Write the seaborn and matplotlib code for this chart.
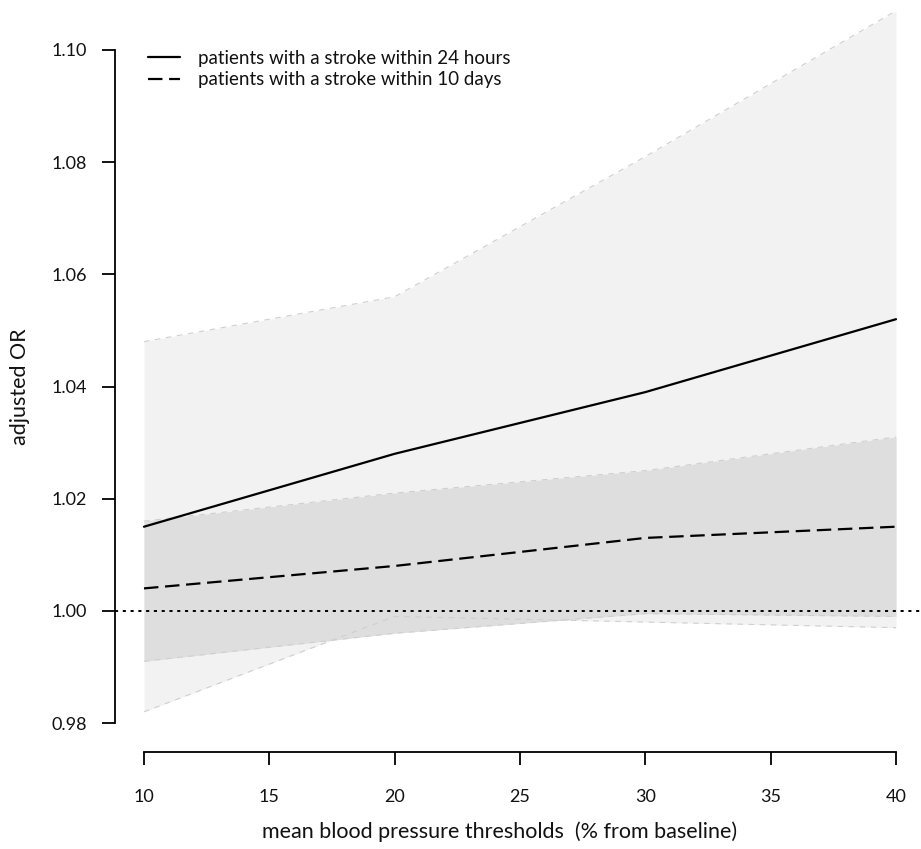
import matplotlib
matplotlib.use("Agg")
import matplotlib.pyplot as plt
import seaborn as sns
import pandas as pd
import numpy as np

# ---- data ----
thresholds = [10, 20, 30, 40]
or_24h = [1.015, 1.028, 1.039, 1.052]
lo_24h = [0.982, 0.999, 0.998, 0.997]
hi_24h = [1.048, 1.056, 1.081, 1.107]
or_10d = [1.004, 1.008, 1.013, 1.015]
lo_10d = [0.991, 0.996, 0.9995, 0.999]
hi_10d = [1.016, 1.021, 1.025, 1.031]
label_24h = "patients with a stroke within 24 hours"
label_10d = "patients with a stroke within 10 days"
x_ticks = [10, 15, 20, 25, 30, 35, 40]
y_ticks = [0.98, 1.00, 1.02, 1.04, 1.06, 1.08, 1.10]

sns.set_style("ticks")
plt.rcParams["font.family"] = ["Lato", "DejaVu Sans"]

W, H = 921, 849
fig = plt.figure(figsize=(W / 100, H / 100), dpi=100)
# axes box in pixels
L, R, T, B = 115, 921, 0, 752
ax = fig.add_axes([L / W, (H - B) / H, (R - L) / W, (B - T) / H])

# data <-> pixel mapping: 10 -> 144, 40 -> 896 ; 0.98 -> 723, 1.10 -> 50
pxx = (896 - 144) / 30.0
pxy = (723 - 50) / 0.12
ax.set_xlim(10 - (144 - L) / pxx, 40 + (R - 896) / pxx)
ax.set_ylim(0.98 - (B - 723) / pxy, 1.10 + (50 - T) / pxy)

df24 = pd.DataFrame({"x": thresholds, "y": or_24h})
df10 = pd.DataFrame({"x": thresholds, "y": or_10d})

# bands
ax.fill_between(thresholds, lo_24h, hi_24h, color="#f2f2f2", lw=0, zorder=1)
ax.fill_between(thresholds, lo_10d, hi_10d, color="#dedede", lw=0, zorder=2)
for arr in (lo_24h, hi_24h, lo_10d, hi_10d):
    ax.plot(thresholds, arr, color="#cfcfcf", lw=0.8, dashes=(5, 5), zorder=3)

# reference line
ax.axhline(1.0, color="black", lw=1.4, dashes=(1.6, 2.4), zorder=4, clip_on=False)

sns.lineplot(data=df24, x="x", y="y", ax=ax, color="black", lw=1.6,
             label=label_24h, zorder=5)
sns.lineplot(data=df10, x="x", y="y", ax=ax, color="black", lw=1.6,
             dashes=False, label=label_10d, zorder=5)
ax.lines[-1].set_dashes((6.5, 3))

# spines / axes
for s in ("top", "right"):
    ax.spines[s].set_visible(False)
ax.spines["left"].set_bounds(0.98, 1.10)
ax.spines["bottom"].set_bounds(10, 40)
for s in ("left", "bottom"):
    ax.spines[s].set_linewidth(1.3)
    ax.spines[s].set_color("black")

ax.set_xticks(x_ticks)
ax.set_xticklabels([str(v) for v in x_ticks])
ax.set_yticks(y_ticks)
ax.set_yticklabels([f"{v:.2f}" for v in y_ticks])
ax.tick_params(axis="both", direction="out", length=9.5, width=1.3,
               color="black", labelsize=13, labelcolor="#111111",
               bottom=True, left=True, top=False, right=False)
ax.tick_params(axis="y", pad=11)
ax.tick_params(axis="x", pad=17)

ax.set_xlabel("mean blood pressure thresholds  (% from baseline)", fontsize=15.5,
              color="#111111")
ax.set_ylabel("adjusted OR", fontsize=15.5, color="#111111")
ax.xaxis.set_label_coords((500 - L) / (R - L), -(832 - B) / (B - T), transform=ax.transAxes)
ax.yaxis.set_label_coords(-(L - 20) / (R - L), (B - 387) / (B - T), transform=ax.transAxes)
ax.xaxis.label.set_va("center")
ax.yaxis.label.set_va("center")

leg = ax.legend(loc="upper left", bbox_to_anchor=(148 / W, 1 - 50 / H),
                bbox_transform=fig.transFigure, frameon=False, fontsize=13.5,
                handlelength=1.7, handletextpad=0.95, labelspacing=0.22,
                borderpad=0, borderaxespad=0)
for t in leg.get_texts():
    t.set_color("#111111")

fig.savefig("out.png", dpi=100)
